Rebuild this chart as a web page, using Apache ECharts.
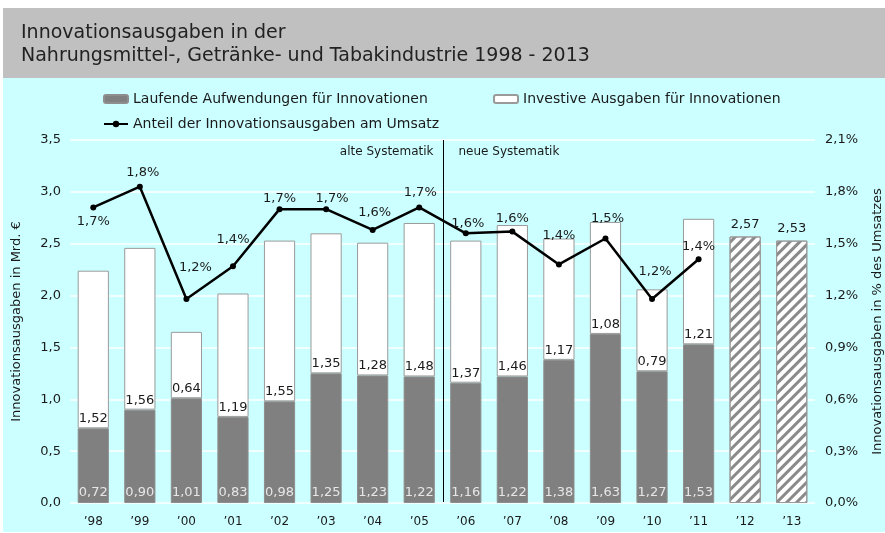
<!DOCTYPE html>
<html>
<head>
<meta charset="utf-8">
<script src="https://cdn.jsdelivr.net/npm/echarts@6/dist/echarts.min.js"></script>
<style>
html,body{margin:0;padding:0;background:#fff;}
#chart{width:885px;height:533px;}
</style>
</head>
<body>
<div id="chart"></div>
<script>
// ---- data ----
const categories = ['\u201998','\u201999','\u201900','\u201901','\u201902','\u201903','\u201904','\u201905','\u201906','\u201907','\u201908','\u201909','\u201910','\u201911','\u201912','\u201913'];
const laufende  = [0.72,0.90,1.01,0.83,0.98,1.25,1.23,1.22,1.16,1.22,1.38,1.63,1.27,1.53,null,null];
const investive = [1.52,1.56,0.64,1.19,1.55,1.35,1.28,1.48,1.37,1.46,1.17,1.08,0.79,1.21,null,null];
const schaetzung = [null,null,null,null,null,null,null,null,null,null,null,null,null,null,2.57,2.53];
const anteil = [1.71,1.83,1.18,1.37,1.70,1.70,1.58,1.71,1.56,1.57,1.38,1.53,1.18,1.41,null,null];
const leftTicks = {min:0, max:3.5, interval:0.5};
const rightTicks = {min:0, max:2.1, interval:0.3};
const seriesNames = ['Laufende Aufwendungen f\u00fcr Innovationen','Investive Ausgaben f\u00fcr Innovationen','Anteil der Innovationsausgaben am Umsatz'];

// ---- styles ----
const lineLabelOffsets = [[0,14],[3,-14],[9,-31],[0,-27],[0,-11],[6,-11],[2,-17],[1,-15],[2,-10],[0,-13],[0,-29],[2,-20],[3,-27],[0,-13],[0,0],[0,0]];
const FONT = 'DejaVu Sans';
const comma = (v, d) => v.toFixed(d).replace('.', ',');
const toSeries = arr => arr.map(v => v == null ? '-' : v);

const chart = echarts.init(document.getElementById('chart'), null, {renderer:'canvas'});

const legendText = {fontFamily:FONT, fontSize:14, color:'#1a1a1a'};
const option = {
  animation: false,
  backgroundColor: '#ffffff',
  textStyle: {fontFamily: FONT},
  title: {
    text: 'Innovationsausgaben in der\nNahrungsmittel-, Getr\u00e4nke- und Tabakindustrie 1998 - 2013',
    left: 16, top: 17,
    textStyle: {fontFamily: FONT, fontSize: 19, fontWeight: 'normal', color: '#222222', lineHeight: 23}
  },
  legend: [
    {data:[seriesNames[0]], left:98, top:87, itemWidth:24, itemHeight:8, itemGap:5, textStyle:legendText},
    {data:[seriesNames[1]], left:488, top:87, itemWidth:24, itemHeight:8, itemGap:5, textStyle:legendText},
    {data:[seriesNames[2]], left:98, top:112, itemWidth:24, itemHeight:8, itemGap:5, textStyle:legendText}
  ],
  grid: {left:70, right:70, top:140, bottom:30, containLabel:false, outerBoundsMode:'none'},
  xAxis: {
    type:'category', data:categories,
    axisLine:{show:false}, axisTick:{show:false},
    axisLabel:{fontFamily:FONT, fontSize:12, color:'#1a1a1a', margin:13}
  },
  yAxis: [
    {type:'value', min:leftTicks.min, max:leftTicks.max, interval:leftTicks.interval,
     name:'Innovationsausgaben in Mrd. \u20ac', nameLocation:'middle', nameGap:47,
     nameTextStyle:{fontFamily:FONT, fontSize:13, color:'#1a1a1a'},
     axisLine:{show:false}, axisTick:{show:false},
     axisLabel:{fontFamily:FONT, fontSize:13, color:'#1a1a1a', margin:9, formatter:v=>comma(v,1)},
     splitLine:{show:true, lineStyle:{color:'#ffffff', width:1.5}}},
    {type:'value', min:rightTicks.min, max:rightTicks.max, interval:rightTicks.interval,
     name:'Innovationsausgaben in % des Umsatzes', nameLocation:'middle', nameGap:56,
     nameTextStyle:{fontFamily:FONT, fontSize:13, color:'#1a1a1a'},
     axisLine:{show:false}, axisTick:{show:false},
     axisLabel:{fontFamily:FONT, fontSize:13, color:'#1a1a1a', margin:10, formatter:v=>comma(v,1)+'%'},
     splitLine:{show:false}}
  ],
  series: [
    {name:seriesNames[0], type:'bar', stack:'a', data:toSeries(laufende), barCategoryGap:'33%',
     itemStyle:{color:'#808080', borderColor:'#8e8e8e', borderWidth:1},
     label:{show:true, position:'insideBottom', distance:4, fontFamily:FONT, fontSize:13, color:'#e6e6e6',
            formatter:p=>comma(p.value,2)}},
    {name:seriesNames[1], type:'bar', stack:'a', data:toSeries(investive),
     itemStyle:{color:'#ffffff', borderColor:'#9a9a9a', borderWidth:1},
     label:{show:true, position:'insideBottom', distance:3, fontFamily:FONT, fontSize:13, color:'#1a1a1a',
            formatter:p=>comma(p.value,2)}},
    {name:'Sch\u00e4tzung', type:'bar', stack:'a', data:toSeries(schaetzung),
     itemStyle:{color:'#ffffff', borderColor:'#9a9a9a', borderWidth:1,
       decal:{symbol:'rect', symbolSize:1, color:'#8a8a8a', dashArrayX:[1,0], dashArrayY:[3,4], rotation:-Math.PI/4}},
     label:{show:true, position:'top', distance:5, fontFamily:FONT, fontSize:13, color:'#1a1a1a',
            formatter:p=>comma(p.value,2)}},
    {name:seriesNames[2], type:'line', yAxisIndex:1, z:5,
     data:anteil.map((v,i)=> v==null ? '-' : {value:v, label:{offset:lineLabelOffsets[i]}}),
     symbol:'circle', symbolSize:6,
     lineStyle:{color:'#000000', width:2.5}, itemStyle:{color:'#000000'},
     label:{show:true, position:'inside', fontFamily:FONT, fontSize:13, color:'#1a1a1a',
            formatter:p=>comma(p.value,1)+'%'}}
  ],
  graphic: [
    {type:'rect', id:'bgGray', z:-10, silent:true, shape:{x:3, y:8, width:882, height:70}, style:{fill:'#c0c0c0'}},
    {type:'rect', id:'bgCyan', z:-10, silent:true, shape:{x:3, y:78, width:882, height:454}, style:{fill:'#ccffff'}}
  ]
};
chart.setOption(option);

// separator between old and new systematics, placed through the axis scales
const x05 = chart.convertToPixel({xAxisIndex:0}, categories[7]);
const x06 = chart.convertToPixel({xAxisIndex:0}, categories[8]);
const sepX = Math.round((x05 + x06) / 2) + 0.5;
const yTop = chart.convertToPixel({yAxisIndex:0}, leftTicks.max);
const yBot = chart.convertToPixel({yAxisIndex:0}, 0);
chart.setOption({
  graphic: [
    {type:'line', id:'sep', z:10, silent:true, shape:{x1:sepX, y1:yTop, x2:sepX, y2:yBot-1}, style:{stroke:'#000', lineWidth:1}},
    {type:'text', id:'alt', z:10, silent:true, x:sepX-10, y:yTop+12,
     style:{text:'alte Systematik', font:'12px "DejaVu Sans"', fill:'#1a1a1a', align:'right', verticalAlign:'middle'}},
    {type:'text', id:'neu', z:10, silent:true, x:sepX+15, y:yTop+12,
     style:{text:'neue Systematik', font:'12px "DejaVu Sans"', fill:'#1a1a1a', align:'left', verticalAlign:'middle'}}
  ]
});
</script>
</body>
</html>
